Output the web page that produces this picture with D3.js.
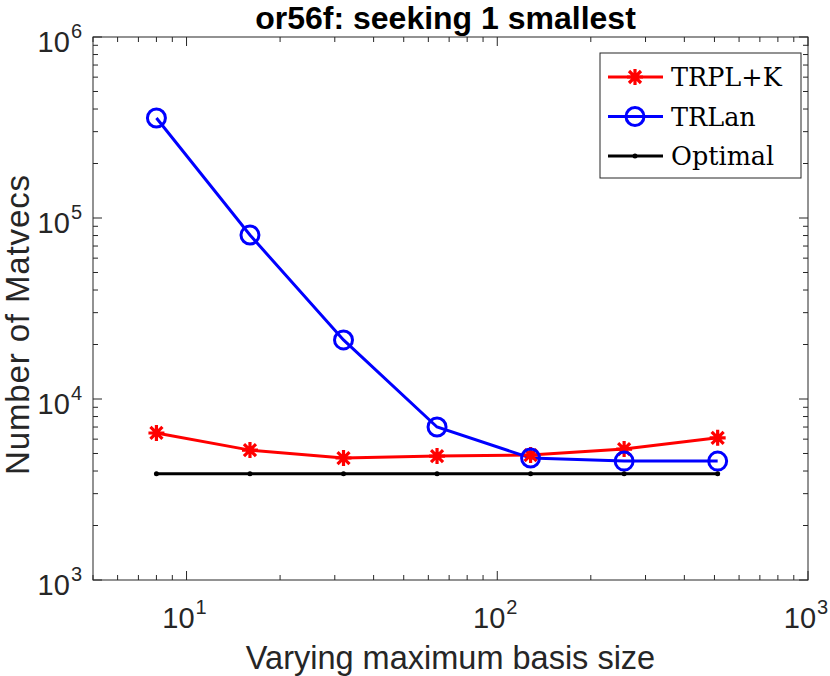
<!DOCTYPE html>
<html>
<head>
<meta charset="utf-8">
<script src="https://cdn.jsdelivr.net/npm/d3@7"></script>
<style>
  body { margin: 0; background: #fff; }
  svg { display: block; }
</style>
</head>
<body>
<script>
// basis sizes and matvec counts
const basisSizes = [8, 16, 32, 64, 128, 256, 512];
const trplkVals = [6490, 5220, 4720, 4840, 4900, 5290, 6100];
const trlanVals = [357000, 80500, 21200, 7000, 4720, 4540, 4540];
const optimalVals = [3860, 3860, 3860, 3860, 3860, 3860, 3860];
const xMajor = [10, 100, 1000];
const yMajor = [1e3, 1e4, 1e5, 1e6];

const series = [
  { name: "TRPL+K", values: trplkVals, color: "#ff0000", marker: "star" },
  { name: "TRLan", values: trlanVals, color: "#0000ff", marker: "circle" },
  { name: "Optimal", values: optimalVals, color: "#000000", marker: "dot" }
];

const W = 830, H = 676;
const margin = { top: 37, right: 22, bottom: 96, left: 93 },
  width = W - margin.left - margin.right,
  height = H - margin.top - margin.bottom;

const axisColor = "#262626";

const x = d3.scaleLog().domain([5, 1000]).range([0, width]);
const y = d3.scaleLog().domain([1e3, 1e6]).range([height, 0]);

const root = d3.select("body").append("svg")
  .attr("width", W)
  .attr("height", H);

const svg = root.append("g")
  .attr("transform", `translate(${margin.left}, ${margin.top})`);

// minor + major ticks (inside, on all four sides)
const xTicks = [];
[1, 10, 100].forEach(dec => {
  for (let k = 1; k <= 9; k++) {
    const v = dec * k;
    if (v >= 5 && v <= 1000) xTicks.push(v);
  }
});
xTicks.push(1000);
const yTicks = [];
[1e3, 1e4, 1e5].forEach(dec => {
  for (let k = 1; k <= 9; k++) yTicks.push(dec * k);
});
yTicks.push(1e6);

const isMajor = v => Math.abs(Math.log10(v) - Math.round(Math.log10(v))) < 1e-9;

const ticks = svg.append("g")
  .attr("stroke", axisColor)
  .attr("stroke-width", 1);

xTicks.forEach(v => {
  const len = isMajor(v) ? 9 : 5;
  const px = x(v);
  ticks.append("line").attr("x1", px).attr("x2", px).attr("y1", height).attr("y2", height - len);
  ticks.append("line").attr("x1", px).attr("x2", px).attr("y1", 0).attr("y2", len);
});
yTicks.forEach(v => {
  const len = isMajor(v) ? 9 : 5;
  const py = y(v);
  ticks.append("line").attr("y1", py).attr("y2", py).attr("x1", 0).attr("x2", len);
  ticks.append("line").attr("y1", py).attr("y2", py).attr("x1", width).attr("x2", width - len);
});

svg.append("rect")
  .attr("width", width)
  .attr("height", height)
  .attr("fill", "none")
  .attr("stroke", axisColor)
  .attr("stroke-width", 1);

// tick labels 10^n
const labelFont = "'Liberation Sans', Arial, Helvetica, sans-serif";

function powLabel(sel, v) {
  const e = Math.round(Math.log10(v));
  sel.append("tspan").text("10");
  sel.append("tspan")
    .attr("font-size", 20)
    .attr("dy", -14)
    .attr("dx", 1)
    .text(e);
}

xMajor.forEach(v => {
  svg.append("text")
    .attr("x", x(v) - 2)
    .attr("y", height + 48)
    .attr("text-anchor", "middle")
    .attr("font-family", labelFont)
    .attr("font-size", 29)
    .attr("fill", axisColor)
    .call(powLabel, v);
});

yMajor.forEach(v => {
  svg.append("text")
    .attr("x", -11)
    .attr("y", y(v) + 15)
    .attr("text-anchor", "end")
    .attr("font-family", labelFont)
    .attr("font-size", 29)
    .attr("fill", axisColor)
    .call(powLabel, v);
});

// axis titles
svg.append("text")
  .attr("x", width / 2)
  .attr("y", height + 89)
  .attr("text-anchor", "middle")
  .attr("font-family", labelFont)
  .attr("font-size", 32.5)
  .attr("fill", axisColor)
  .text("Varying maximum basis size");

svg.append("text")
  .attr("transform", "rotate(-90)")
  .attr("x", -(325 - margin.top))
  .attr("y", -64)
  .attr("text-anchor", "middle")
  .attr("font-family", labelFont)
  .attr("font-size", 33)
  .attr("textLength", 300)
  .attr("lengthAdjust", "spacing")
  .attr("fill", axisColor)
  .text("Number of Matvecs");

root.append("text")
  .attr("x", margin.left + width / 2 - 5)
  .attr("y", 29)
  .attr("text-anchor", "middle")
  .attr("font-family", labelFont)
  .attr("font-weight", "bold")
  .attr("font-size", 32)
  .attr("fill", "#000")
  .text("or56f: seeking 1 smallest");

// markers
function drawMarker(g, type, color) {
  if (type === "star") {
    const r = 8;
    const d = r * 0.75;
    g.append("path")
      .attr("d", `M${-r},0H${r}M0,${-r}V${r}M${-d},${-d}L${d},${d}M${-d},${d}L${d},${-d}`)
      .attr("stroke", color)
      .attr("stroke-width", 3.2)
      .attr("fill", "none");
  } else if (type === "circle") {
    g.append("circle")
      .attr("r", 9)
      .attr("fill", "none")
      .attr("stroke", color)
      .attr("stroke-width", 3);
  } else {
    g.append("circle")
      .attr("r", 2.5)
      .attr("fill", color);
  }
}

const line = d3.line()
  .x(d => x(d[0]))
  .y(d => y(d[1]));

const plot = svg.append("g");
series.forEach(s => {
  const pts = basisSizes.map((b, i) => [b, s.values[i]]);
  plot.append("path")
    .datum(pts)
    .attr("d", line)
    .attr("fill", "none")
    .attr("stroke", s.color)
    .attr("stroke-width", 3);
});
series.forEach(s => {
  basisSizes.forEach((b, i) => {
    const g = plot.append("g")
      .attr("transform", `translate(${x(b)}, ${y(s.values[i])})`);
    drawMarker(g, s.marker, s.color);
  });
});

// legend
const lgX = 600 - margin.left, lgY = 53 - margin.top;
const legend = svg.append("g")
  .attr("transform", `translate(${lgX}, ${lgY})`);

legend.append("rect")
  .attr("width", 201)
  .attr("height", 125)
  .attr("fill", "#fff")
  .attr("stroke", axisColor)
  .attr("stroke-width", 1);

series.forEach((s, i) => {
  const row = legend.append("g")
    .attr("transform", `translate(0, ${24 + i * 39.5})`);
  row.append("line")
    .attr("x1", 8)
    .attr("x2", 63)
    .attr("stroke", s.color)
    .attr("stroke-width", 3);
  const m = row.append("g").attr("transform", "translate(35, 0)");
  drawMarker(m, s.marker, s.color);
  row.append("text")
    .attr("x", 71)
    .attr("y", 9)
    .attr("font-family", "'DejaVu Serif', 'Liberation Serif', serif")
    .attr("font-size", 25.5)
    .attr("fill", "#000")
    .text(s.name);
});
</script>
</body>
</html>
